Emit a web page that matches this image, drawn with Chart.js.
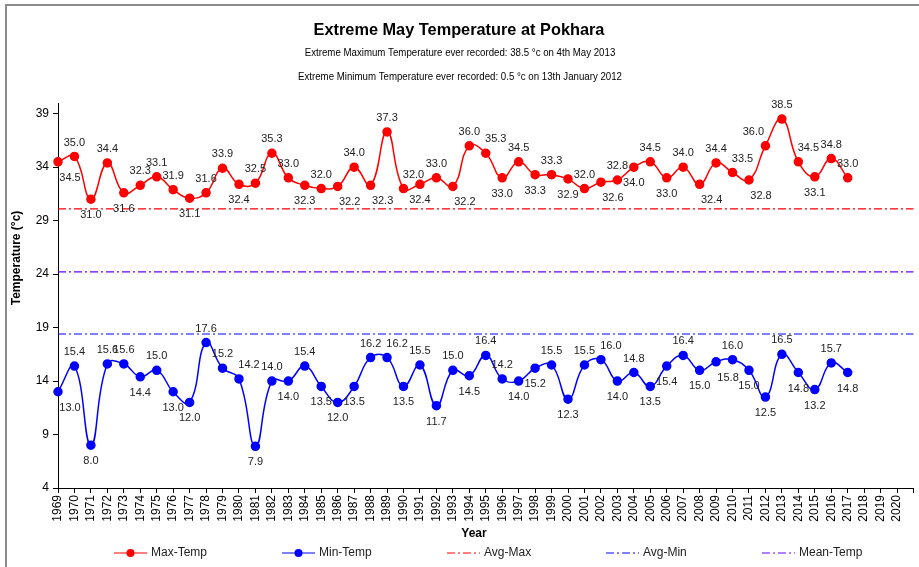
<!DOCTYPE html>
<html>
<head>
<meta charset="utf-8">
<script src="https://cdn.jsdelivr.net/npm/chart.js@4.4.1/dist/chart.umd.min.js"></script>
<style>
	html, body { margin: 0; padding: 0; background: #fff; }
	#wrap { width: 919px; height: 567px; position: relative; }
</style>
</head>
<body>
<div id="wrap"><canvas id="tempChart"></canvas></div>
<script>
// years shown on the axis (data stops at 2017)
const years = [];
for (let y = 1969; y <= 2020; y++) years.push(String(y));

const maxTemp = [34.5, 35.0, 31.0, 34.4, 31.6, 32.3, 33.1, 31.9, 31.1, 31.6,
	33.9, 32.4, 32.5, 35.3, 33.0, 32.3, 32.0, 32.2, 34.0, 32.3,
	37.3, 32.0, 32.4, 33.0, 32.2, 36.0, 35.3, 33.0, 34.5, 33.3,
	33.3, 32.9, 32.0, 32.6, 32.8, 34.0, 34.5, 33.0, 34.0, 32.4,
	34.4, 33.5, 32.8, 36.0, 38.5, 34.5, 33.1, 34.8, 33.0];

const minTemp = [13.0, 15.4, 8.0, 15.6, 15.6, 14.4, 15.0, 13.0, 12.0, 17.6,
	15.2, 14.2, 7.9, 14.0, 14.0, 15.4, 13.5, 12.0, 13.5, 16.2,
	16.2, 13.5, 15.5, 11.7, 15.0, 14.5, 16.4, 14.2, 14.0, 15.2,
	15.5, 12.3, 15.5, 16.0, 14.0, 14.8, 13.5, 15.4, 16.4, 15.0,
	15.8, 16.0, 15.0, 12.5, 16.5, 14.8, 13.2, 15.7, 14.8];

const avgMax = 30.1;
const avgMin = 18.4;
const meanTemp = 24.2;

const yTicks = [4, 9, 14, 19, 24, 29, 34, 39];

// where each value label sits relative to its point
const maxSide = ['br', 'a', 'b', 'a', 'b', 'a', 'a', 'a', 'b', 'a',
	'a', 'b', 'a', 'a', 'a', 'b', 'a', 'br', 'a', 'br',
	'a', 'ar', 'b', 'a', 'br', 'a', 'ar', 'b', 'a', 'b',
	'a', 'b', 'a', 'br', 'a', 'b', 'a', 'b', 'a', 'br',
	'a', 'ar', 'br', 'al', 'a', 'ar', 'b', 'a', 'a'];
const minSide = ['br', 'a', 'b', 'a', 'a', 'b', 'a', 'b', 'b', 'a',
	'a', 'ar', 'b', 'a', 'b', 'a', 'b', 'b', 'b', 'a',
	'ar', 'b', 'a', 'b', 'a', 'b', 'a', 'a', 'b', 'b',
	'a', 'b', 'a', 'ar', 'b', 'a', 'b', 'b', 'a', 'b',
	'br', 'a', 'b', 'b', 'a', 'b', 'b', 'a', 'b'];

const labels = years.concat(['']);
const flat = v => labels.map(() => v);

const dashDot = [8, 3, 2, 3];
const FONT = '"Liberation Sans", Arial, sans-serif';

const legendItems = [
	{ text: 'Max-Temp', color: '#ff0000', x: 114, dot: true },
	{ text: 'Min-Temp', color: '#0000ff', x: 282, dot: true },
	{ text: 'Avg-Max', color: '#ff0000', x: 447, dot: false },
	{ text: 'Avg-Min', color: '#0000ff', x: 606, dot: false },
	{ text: 'Mean-Temp', color: '#6a00ff', x: 762, dot: false }
];

function narrowText(ctx, text, x, y, sx) {
	ctx.save();
	ctx.translate(x, y);
	ctx.scale(sx, 1);
	ctx.fillText(text, 0, 0);
	ctx.restore();
}

const decorations = {
	id: 'decorations',
	beforeDraw(chart) {
		const ctx = chart.ctx;
		ctx.save();
		ctx.strokeStyle = '#8c8c8c';
		ctx.lineWidth = 2;
		ctx.beginPath();
		ctx.moveTo(6, 567);
		ctx.lineTo(6, 5);
		ctx.lineTo(919, 5);
		ctx.stroke();
		ctx.restore();
	},
	afterDatasetsDraw(chart) {
		const ctx = chart.ctx;
		ctx.save();
		ctx.font = '11px ' + FONT;
		ctx.fillStyle = '#222';
		ctx.textAlign = 'center';
		ctx.textBaseline = 'middle';
		const offs = { a: [0, -14], b: [0, 16], ar: [10, -14], br: [12, 16], al: [-12, -14] };
		[[0, maxSide], [1, minSide]].forEach(([idx, sides]) => {
			const meta = chart.getDatasetMeta(idx);
			const vals = chart.data.datasets[idx].data;
			meta.data.forEach((pt, i) => {
				if (vals[i] == null) return;
				const o = offs[sides[i]];
				ctx.fillText(vals[i].toFixed(1), pt.x + o[0], pt.y + o[1]);
			});
		});
		ctx.restore();
	},
	afterDraw(chart) {
		const ctx = chart.ctx;
		ctx.save();
		ctx.fillStyle = '#000';
		ctx.textAlign = 'center';
		ctx.textBaseline = 'middle';
		ctx.font = 'bold 17px ' + FONT;
		narrowText(ctx, 'Extreme May Temperature at Pokhara', 459, 30, 0.96);
		ctx.font = '11px ' + FONT;
		narrowText(ctx, 'Extreme Maximum Temperature ever recorded: 38.5 °c on 4th May 2013', 460, 53, 0.88);
		narrowText(ctx, 'Extreme Minimum Temperature ever recorded: 0.5 °c on 13th January 2012', 460, 77, 0.88);

		ctx.font = 'bold 12px ' + FONT;
		ctx.fillText('Year', 474, 534);
		ctx.save();
		ctx.translate(17, 258);
		ctx.rotate(-Math.PI / 2);
		ctx.fillText('Temperature (°c)', 0, 0);
		ctx.restore();

		// legend
		ctx.font = '12px ' + FONT;
		ctx.textAlign = 'left';
		legendItems.forEach(it => {
			const y = 553;
			ctx.strokeStyle = it.color;
			ctx.lineWidth = 1.2;
			ctx.setLineDash(it.dot ? [] : dashDot);
			ctx.beginPath();
			ctx.moveTo(it.x, y);
			ctx.lineTo(it.x + 33, y);
			ctx.stroke();
			ctx.setLineDash([]);
			if (it.dot) {
				ctx.fillStyle = it.color;
				ctx.beginPath();
				ctx.arc(it.x + 16.5, y, 4, 0, Math.PI * 2);
				ctx.fill();
			}
			ctx.fillStyle = '#222';
			ctx.fillText(it.text, it.x + 37, y);
		});
		ctx.restore();
	}
};

const ctx = document.getElementById('tempChart').getContext('2d');
new Chart(ctx, {
	type: 'line',
	data: {
		labels: labels,
		datasets: [{
			label: 'Max-Temp',
			data: maxTemp,
			borderColor: '#ff0000',
			backgroundColor: '#ff0000',
			borderWidth: 1.5,
			pointRadius: 4,
			tension: 0.45
		}, {
			label: 'Min-Temp',
			data: minTemp,
			borderColor: '#0000ff',
			backgroundColor: '#0000ff',
			borderWidth: 1.5,
			pointRadius: 4,
			tension: 0.45
		}, {
			label: 'Avg-Max',
			data: flat(avgMax),
			borderColor: '#ff0000',
			borderWidth: 1.2,
			borderDash: dashDot,
			pointRadius: 0
		}, {
			label: 'Avg-Min',
			data: flat(avgMin),
			borderColor: '#0000ff',
			borderWidth: 1.2,
			borderDash: dashDot,
			pointRadius: 0
		}, {
			label: 'Mean-Temp',
			data: flat(meanTemp),
			borderColor: '#6a00ff',
			borderWidth: 1.2,
			borderDash: dashDot,
			pointRadius: 0
		}]
	},
	options: {
		responsive: true,
		maintainAspectRatio: false,
		animation: false,
		layout: { padding: { left: 0, right: 4, top: 103, bottom: 0 } },
		plugins: {
			legend: { display: false },
			title: { display: false },
			tooltip: { enabled: false }
		},
		scales: {
			x: {
				ticks: {
					autoSkip: false,
					maxRotation: 90,
					minRotation: 90,
					color: '#000',
					font: { family: FONT, size: 12 },
					padding: 2
				},
				grid: { drawOnChartArea: false, tickLength: 5, color: '#000' },
				border: { color: '#000', width: 1 },
				afterFit(scale) {
					scale.height = 79;
					scale.paddingLeft = 0;
					scale.paddingRight = 0;
				}
			},
			y: {
				min: 4,
				max: 40,
				afterBuildTicks(scale) { scale.ticks = yTicks.map(v => ({ value: v })); },
				ticks: {
					color: '#000',
					font: { family: FONT, size: 12 },
					padding: 4
				},
				grid: { drawOnChartArea: false, tickLength: 5, color: '#000' },
				border: { color: '#000', width: 1 },
				afterFit(scale) { scale.width = 58; }
			}
		}
	},
	plugins: [decorations]
});
</script>
</body>
</html>
